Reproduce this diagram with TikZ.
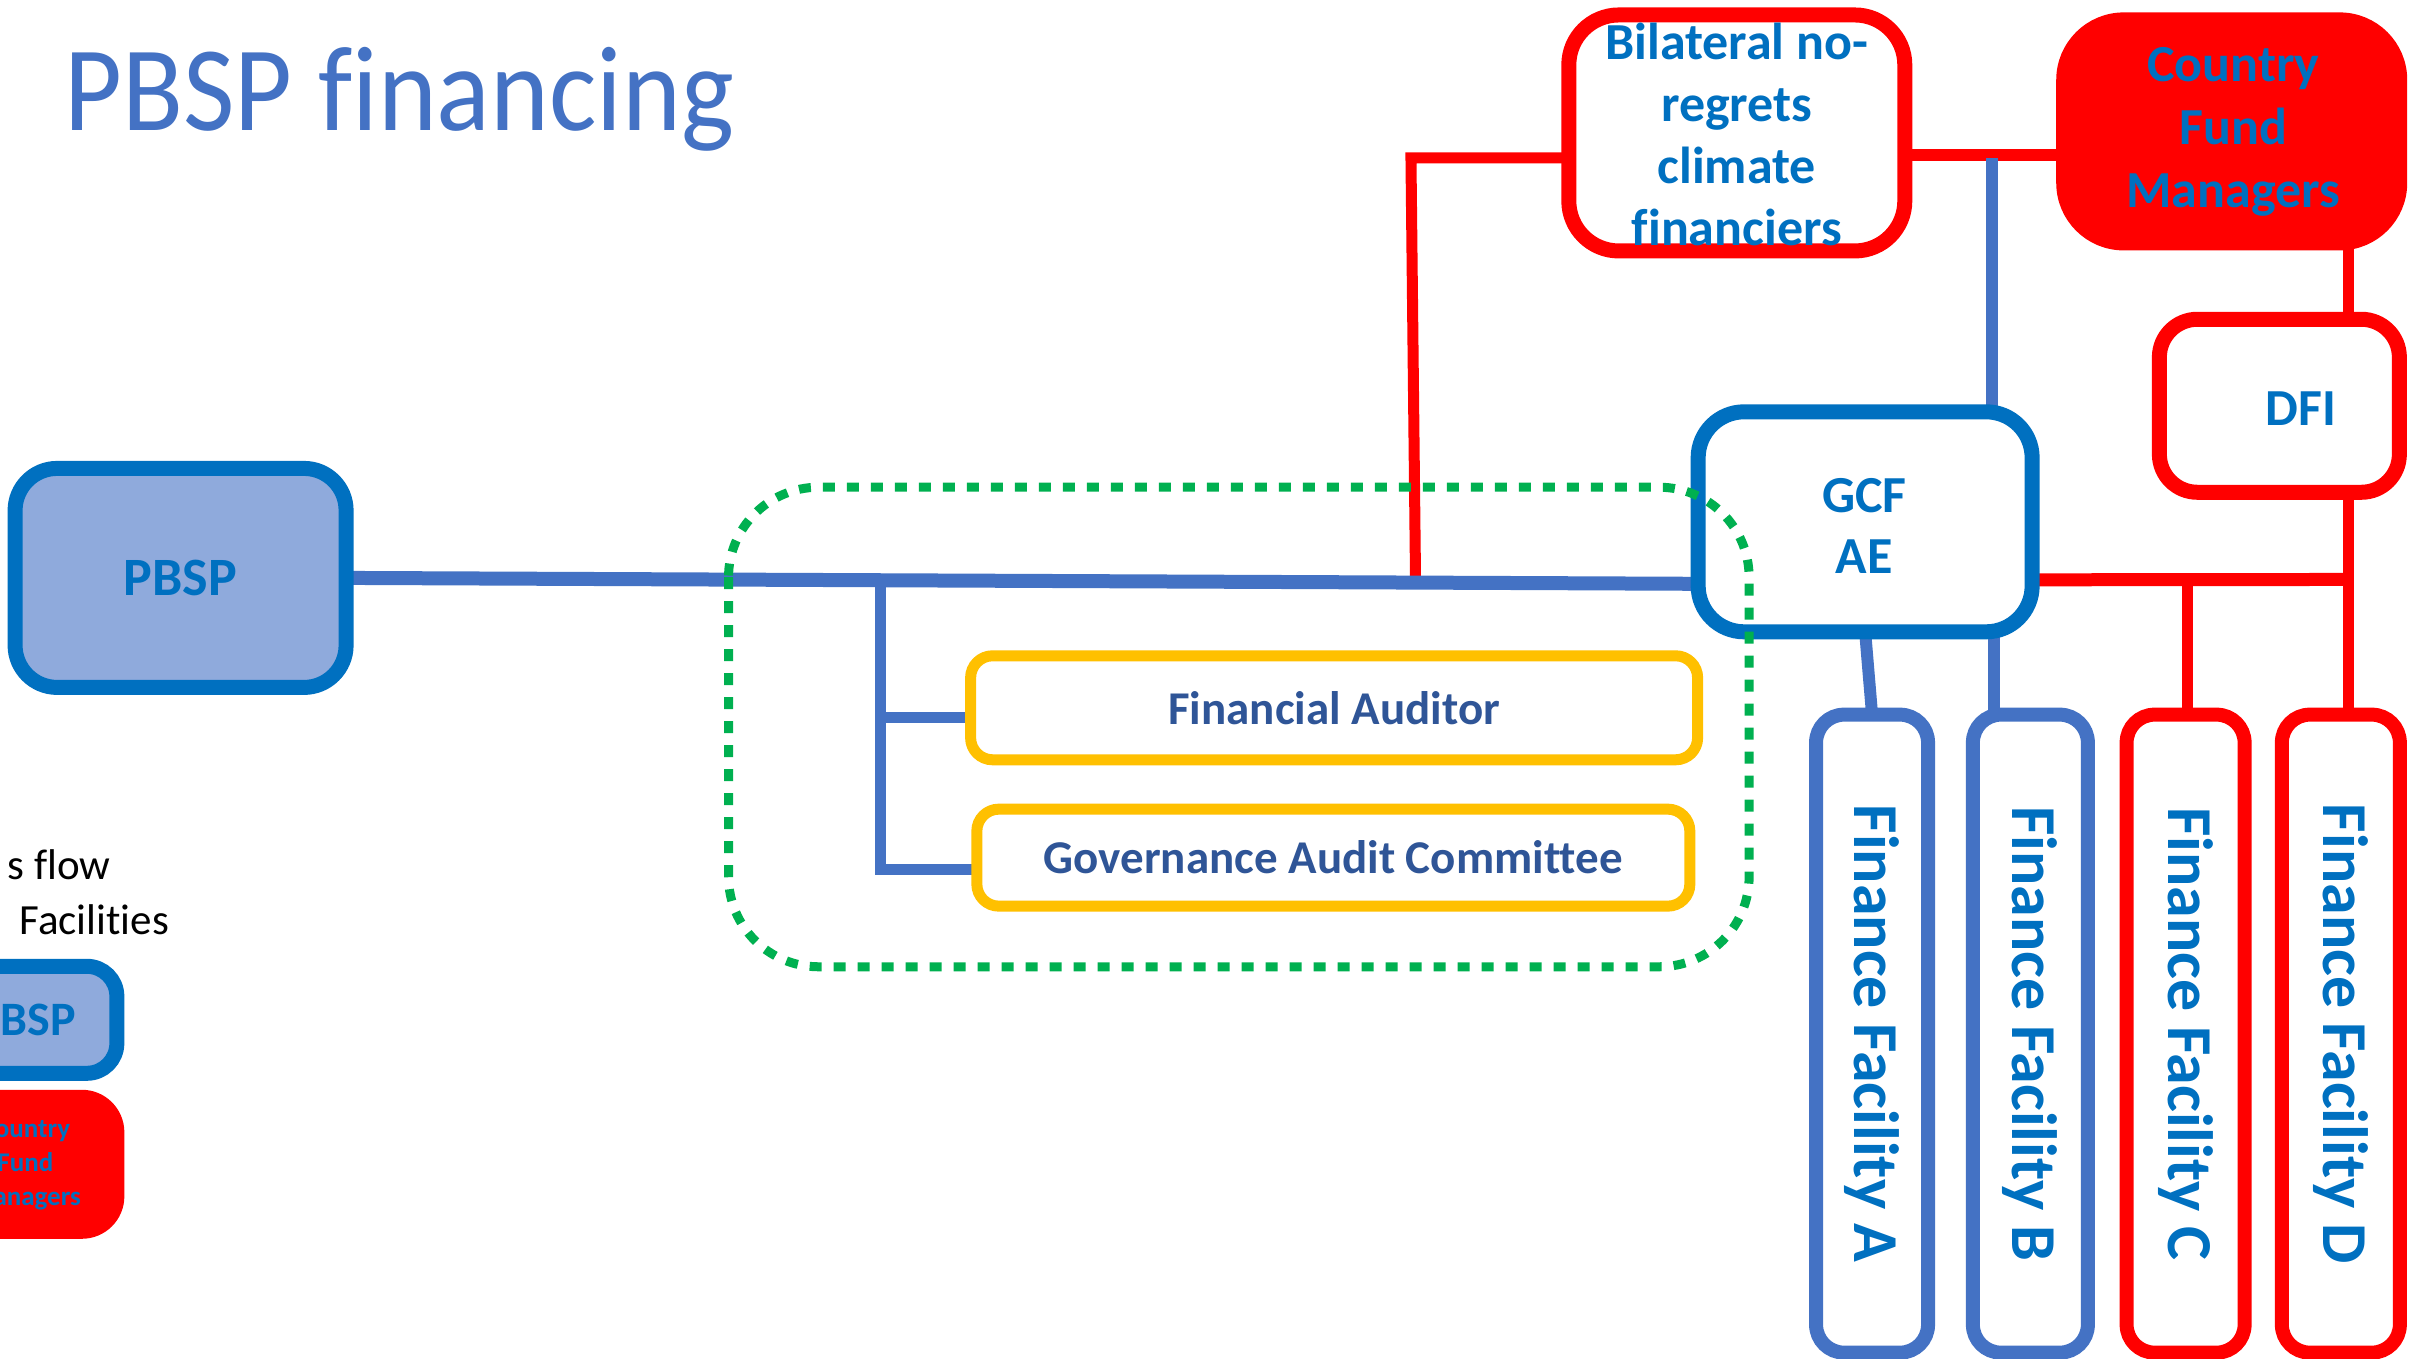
\documentclass[tikz,border=0pt]{standalone}
\usepackage{fontspec}
\setmainfont{Carlito}[Ligatures=NoCommon]
\usepackage{graphicx}
\usetikzlibrary{backgrounds}
\definecolor{cLine}{HTML}{4472C4}
\definecolor{cDark}{HTML}{0070C0}
\definecolor{cLight}{HTML}{8FAADC}
\definecolor{cRed}{HTML}{FF0000}
\definecolor{cYellow}{HTML}{FFC000}
\definecolor{cGreen}{HTML}{00B050}
\definecolor{cText}{HTML}{2F5597}
\newcommand\myfs[2]{\fontsize{#1}{#2}\selectfont}
\begin{document}
\begin{tikzpicture}[x=1.53699pt,y=-1.53699pt,
  boxbase/.style={draw, line width=15pt, inner sep=0pt, outer sep=0pt, fill=white},
  bluebox/.style={boxbase, draw=cDark, rounded corners=46pt},
  redbox/.style={boxbase, draw=cRed, rounded corners=50pt},
  redfill/.style={boxbase, draw=cRed, fill=cRed, rounded corners=60pt},
  ffblue/.style={boxbase, draw=cLine, line width=14pt, rounded corners=28pt, text=cDark, font=\bfseries\myfs{64}{72}},
  ffred/.style={boxbase, draw=cRed, line width=14pt, rounded corners=28pt, text=cDark, font=\bfseries\myfs{64}{72}},
  yellowbox/.style={boxbase, draw=cYellow, line width=11pt, rounded corners=22pt, text=cText, font=\bfseries\myfs{47}{56}},
  boxtext/.style={text=cDark, font=\bfseries\myfs{52}{62}, align=center, inner sep=0pt},
  bconn/.style={draw=cLine, line width=13pt},
  rconn/.style={draw=cRed, line width=12pt},
]
\useasboundingbox (0,0) rectangle (1568,883.6);
\begin{scope}[on background layer]
  \fill[white] (0,0) rectangle (1568,883.6);
\end{scope}
\clip (0,0) rectangle (1568,883.6);

% title
\node[anchor=base west, text=cLine, font=\myfs{112}{130}, inner sep=0pt] (title) at (42,85) {\scalebox{1}[1.08]{PBSP financing}};

% main boxes
\node[bluebox, fill=cLight, rounded corners=42pt, minimum width=331pt, minimum height=219pt,
      text=cDark, font=\bfseries\myfs{54}{62}] (pbsp) at (117.5,376) {PBSP};

\node[redbox, minimum width=336pt, minimum height=236pt] (bil) at (1130,86.5) {};
\node[boxtext] (bilT) at (1130,87.5) {Bilateral no-\\regrets\\climate\\financiers};

\node[redfill, minimum width=336pt, minimum height=223pt] (cfm) at (1452,85.5) {};
\node[boxtext, font=\bfseries\myfs{52}{63}] (cfmT) at (1453,86) {Country\\Fund\\Managers};

\node[bluebox, minimum width=334pt, minimum height=220pt] (gcf) at (1213.5,339.5) {};
\node[boxtext, font=\bfseries\myfs{52}{61}] (gcfT) at (1213,342) {GCF\\AE};

\node[redbox, rounded corners=38pt, minimum width=240pt, minimum height=173pt] (dfi) at (1483,264) {};
\node[boxtext] (dfiT) at (1497,266) {DFI};

\node[ffblue, minimum width=112pt, minimum height=638pt] (ffa) at (1218,672.5) {\rotatebox{-90}{Finance Facility A}};
\node[ffblue, minimum width=115pt, minimum height=638pt] (ffb) at (1321,672.5) {\rotatebox{-90}{Finance Facility B}};
\node[ffred, minimum width=118pt, minimum height=638pt] (ffc) at (1422,672.5) {\rotatebox{-90}{Finance Facility C}};
\node[ffred, minimum width=118pt, minimum height=638pt] (ffd) at (1523,672.5) {\rotatebox{-90}{Finance Facility D}};

\node[yellowbox, minimum width=727pt, minimum height=104pt] (fa) at (868,460.5) {Financial Auditor};
\node[yellowbox, minimum width=713pt, minimum height=97pt] (gac) at (867.5,558) {Governance Audit Committee};

% legend
\node[anchor=base east, inner sep=0pt, font=\myfs{43}{52}] (lg1) at (72,572) {s flow};
\node[anchor=base east, inner sep=0pt, font=\myfs{43}{52}] (lg2) at (110,608) {Facilities};
\node[bluebox, fill=cLight, rounded corners=30pt, minimum width=183pt, minimum height=107pt,
      text=cDark, font=\bfseries\myfs{48}{56}] (lp) at (16.5,663.5) {PBSP};
\node[redfill, rounded corners=35pt, minimum width=183pt, minimum height=134pt] (lc) at (16.5,757.5) {};
\node[boxtext, font=\bfseries\myfs{27}{34}] (lcT) at (16.5,758) {Country\\Fund\\Managers};

% connectors
\coordinate (br) at (573,377.5);
\coordinate (rk1) at (918,103);
\coordinate (rk2) at (921,380);
\coordinate (bt) at (1296,103);
\coordinate (rx) at (1528,0);
\coordinate (rj) at (1528,377);
\coordinate (rc) at (1423,377);
\coordinate (bx) at (1297,0);
\begin{scope}[on background layer]
  \draw[rconn, line width=11pt] ([yshift=-25pt]bil.west) -| (rk1) -- (rk2);
  \draw[rconn] ([yshift=-22pt]bil.east) -- ([yshift=-22pt]bil.east -| cfm.west);
  \draw[rconn, line width=11pt] (rx |- cfm.south) -- (rx |- dfi.north);
  \draw[rconn, line width=11pt] (rx |- dfi.south) -- (rx |- ffd.north);
  \draw[rconn, line width=13pt] ([yshift=-58pt]gcf.east) -- (rj);
  \draw[rconn, line width=11pt] (rc) -- (rc |- ffc.north);
  \draw[bconn, line width=14pt] (pbsp.east) -- ([yshift=-62pt]gcf.west);
  \draw[bconn, line width=11pt] (br) |- ([yshift=-10pt]fa.west);
  \draw[bconn, line width=11pt] (br) |- ([yshift=-12pt]gac.west);
  \draw[bconn, line width=12pt] (bt) -- (bt |- gcf.north);
  \draw[bconn, line width=12pt] (gcf.south) -- (ffa.north);
  \draw[bconn, line width=12pt] (bx |- gcf.south) -- (bx |- ffb.north);
\end{scope}

% green dotted group
\draw[cGreen, line width=9pt, dash pattern=on 12pt off 12pt, rounded corners=90pt] (474,317) rectangle (1138,629);
\end{tikzpicture}
\end{document}
